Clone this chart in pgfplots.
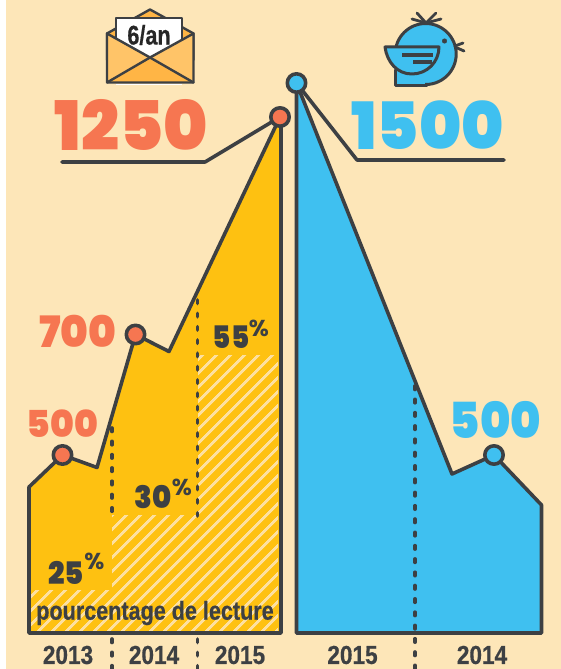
\documentclass[border=0pt]{standalone}
\usepackage{pgfplots}
\pgfplotsset{compat=1.18}
\usepackage{fontspec}
\usetikzlibrary{patterns.meta}
\setmainfont{Liberation Sans}[BoldFeatures={FakeBold=0.6}]
\newfontfamily\numfont{Poppins}[UprightFont=* Black]
\newfontfamily\pctfont{Poppins}[UprightFont=* Bold]
\definecolor{bg}{HTML}{FDE6B8}
\definecolor{yel}{HTML}{FEC111}
\definecolor{org}{HTML}{F67651}
\definecolor{blu}{HTML}{3FC0F0}
\definecolor{ink}{HTML}{3D4043}
\definecolor{txt}{HTML}{3D4043}
\definecolor{hatch}{HTML}{FDE0A0}
\definecolor{env}{HTML}{FFC468}
\definecolor{envd}{HTML}{FFB545}
\pgfdeclareplotmark{ringo}{\pgfsetlinewidth{3.6pt}\pgfsetstrokecolor{ink}\pgfsetfillcolor{org}\pgfpathcircle{\pgfpointorigin}{9.2pt}\pgfusepath{fill,stroke}}
\pgfdeclareplotmark{ringb}{\pgfsetlinewidth{3.6pt}\pgfsetstrokecolor{ink}\pgfsetfillcolor{blu}\pgfpathcircle{\pgfpointorigin}{9.2pt}\pgfusepath{fill,stroke}}
\begin{document}
\begin{tikzpicture}
\useasboundingbox (0,0) rectangle (561pt,669pt);
\begin{axis}[at={(0,0)},anchor=south west,scale only axis,width=561pt,height=669pt,
  xmin=0,xmax=561,ymin=0,ymax=669,y dir=reverse,hide axis,clip=false,
  every axis plot/.append style={line join=round,line cap=round}]
% background
\addplot[draw=none,fill=bg] coordinates {(6,0)(561,0)(561,669)(6,669)} -- cycle;
% yellow area
\addplot[draw=none,fill=yel] coordinates {(29,633)(29,487)(62.5,455)(97,467.5)(135.5,334.5)(169,351.5)(280,117)(280,633)} -- cycle;
% hatching
\addplot[draw=none,pattern={Lines[angle=45,distance=10.5pt,line width=3pt]},pattern color=hatch] coordinates {(31,631)(31,590)(112,590)(112,515)(198,515)(198,355)(278,355)(278,631)} -- cycle;
% blue area
\addplot[draw=none,fill=blu] coordinates {(296.5,633)(296.5,83)(452,474)(494,455)(541.5,505)(541.5,633)} -- cycle;
% dotted separators
\addplot[ink,line width=3.6pt,line cap=round,dash pattern=on 3.5pt off 9.8pt] coordinates {(112,428)(112,516)};
\addplot[ink,line width=3.6pt,line cap=round,dash pattern=on 3.5pt off 9.8pt] coordinates {(197.5,300)(197.5,516)};
\addplot[ink,line width=3.6pt,line cap=round,dash pattern=on 3.5pt off 9.8pt] coordinates {(112,639)(112,669)};
\addplot[ink,line width=3.6pt,line cap=round,dash pattern=on 3.5pt off 9.8pt] coordinates {(197.5,639)(197.5,669)};
\addplot[ink,line width=3.6pt,line cap=round,dash pattern=on 3.5pt off 9.8pt] coordinates {(415,386)(415,669)};
% outlines
\addplot[ink,line width=3.6pt] coordinates {(29,633)(29,487)(62.5,455)(97,467.5)(135.5,334.5)(169,351.5)(280,117)(281,117)(281,633)} -- cycle;
\addplot[ink,line width=3.6pt] coordinates {(296.5,633)(296.5,83)(452,474)(494,455)(541.5,505)(541.5,633)} -- cycle;
% leader lines
\addplot[ink,line width=3.6pt] coordinates {(62,162)(205,162)(280,117)};
\addplot[ink,line width=3.6pt] coordinates {(296.5,83)(357,160)(504,160)};
% data dots
\addplot[only marks,mark=ringo] coordinates {(62.5,455)(135.5,334.5)(280,117)};
\addplot[only marks,mark=ringb] coordinates {(296.5,83)(494,455)};
% big numbers
\node[org,inner sep=0,yscale=1.02] at (axis cs:131.5,125) {\fontsize{67}{67}\numfont 1250};
\node[blu,inner sep=0,yscale=1.02] at (axis cs:427.5,125) {\fontsize{64}{64}\numfont 1500};
\node[org,inner sep=0,yscale=1.03] at (axis cs:78,331) {\fontsize{42}{42}\numfont 700};
\node[org,inner sep=0,yscale=1.03] at (axis cs:62.5,424) {\fontsize{36}{36}\numfont 500};
\node[blu,inner sep=0,yscale=1.08] at (axis cs:495.5,420) {\fontsize{46}{46}\numfont 500};
% percents
\node[txt,inner sep=0,yscale=1.07] at (axis cs:66,572.5) {\fontsize{29}{29}\numfont 25};
\node[txt,inner sep=0] at (axis cs:94.5,561) {\fontsize{23}{23}\pctfont\%};
\node[txt,inner sep=0,yscale=1.07] at (axis cs:153,497.5) {\fontsize{29}{29}\numfont 30};
\node[txt,inner sep=0] at (axis cs:182,487) {\fontsize{23}{23}\pctfont\%};
\node[txt,inner sep=0,xscale=0.95,yscale=1.07] at (axis cs:231,337.5) {\fontsize{29}{29}\numfont 55};
\node[txt,inner sep=0] at (axis cs:259,328) {\fontsize{23}{23}\pctfont\%};
% labels
\node[txt,inner sep=0,xscale=0.83] at (axis cs:155,613) {\fontsize{26}{26}\selectfont\bfseries pourcentage de lecture};
\node[txt,inner sep=0,xscale=0.87] at (axis cs:68,655) {\fontsize{26}{26}\selectfont\bfseries 2013};
\node[txt,inner sep=0,xscale=0.87] at (axis cs:154,655) {\fontsize{26}{26}\selectfont\bfseries 2014};
\node[txt,inner sep=0,xscale=0.87] at (axis cs:240,655) {\fontsize{26}{26}\selectfont\bfseries 2015};
\node[txt,inner sep=0,xscale=0.87] at (axis cs:352.5,655) {\fontsize{26}{26}\selectfont\bfseries 2015};
\node[txt,inner sep=0,xscale=0.87] at (axis cs:482,655) {\fontsize{26}{26}\selectfont\bfseries 2014};
% envelope
\addplot[ink,line width=2.4pt,fill=envd] coordinates {(107,33.5)(150,9.5)(193.5,33.5)(193.5,60)(107,60)} -- cycle;
\addplot[ink,line width=2.4pt,fill=white] coordinates {(116,18)(182,18)(182,60)(116,60)} -- cycle;
\addplot[draw=none,fill=env] coordinates {(107,33.5)(150,57.5)(193.5,33.5)(193.5,82.5)(107,82.5)} -- cycle;
\addplot[draw=none,fill=envd] coordinates {(107,82.5)(150,57.5)(193.5,82.5)} -- cycle;
\addplot[ink,line width=2.4pt] coordinates {(107,33.5)(150,57.5)(193.5,33.5)(193.5,82.5)(107,82.5)} -- cycle;
\addplot[ink,line width=2.4pt] coordinates {(107,82.5)(150,57.5)(193.5,82.5)};
\addplot[white,line width=1pt,line cap=butt] coordinates {(116,84.5)(182,84.5)};
\node[black!85,inner sep=0,xscale=0.8] at (axis cs:149,35) {\fontsize{27}{27}\selectfont\bfseries 6/an};
% bird
\addplot[draw=none,fill=blu] coordinates {(395,55)(425,55)(425,85)(395,85)} -- cycle;
\draw[ink,line width=3pt,fill=blu] (axis cs:425.7,54) circle[radius=30.5pt];
\addplot[draw=none,fill=blu] coordinates {(396.5,60)(425,60)(425,83.5)(396.5,83.5)} -- cycle;
\addplot[ink,line width=3pt] coordinates {(395,70)(395,85)(427,85)};
\draw[ink,line width=3pt,fill=blu,line join=round] (axis cs:385,47) -- (axis cs:439,47) .. controls (axis cs:439,62) and (axis cs:427,74) .. (axis cs:412,74) .. controls (axis cs:397,74) and (axis cs:387,62) .. (axis cs:385,47) -- cycle;
\addplot[ink,line width=3.6pt,line cap=butt] coordinates {(402,55)(433,55)};
\addplot[ink,line width=3.6pt,line cap=butt] coordinates {(413,62)(432,62)};
\addplot[only marks,mark=*,mark size=2.3pt,mark options={ink,fill=ink}] coordinates {(444.5,41)};
\addplot[ink,line width=2.8pt] coordinates {(417,13)(426,23)(436,13)};
\addplot[ink,line width=2.8pt] coordinates {(412,19)(426,23)(441,19)};
\addplot[ink,line width=2.8pt] coordinates {(455,46)(463,43)};
\addplot[ink,line width=2.8pt] coordinates {(455,47)(464,51)};
\end{axis}
\end{tikzpicture}
\end{document}
